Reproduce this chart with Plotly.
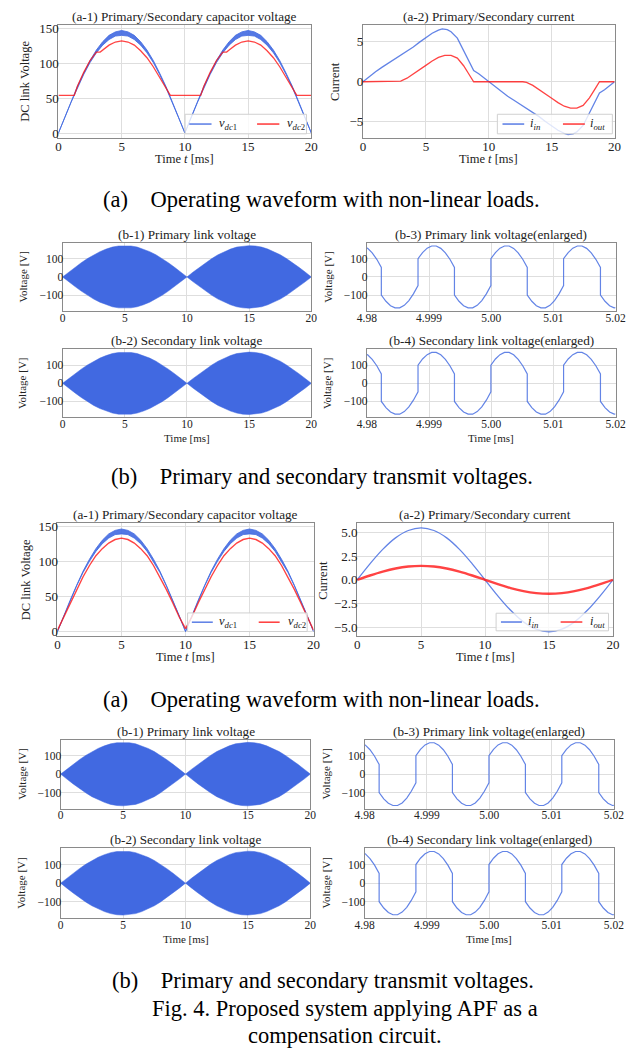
import plotly.graph_objects as go

W, H = 643, 1055
SERIF = "Liberation Serif"
TXT = "#222222"
GRID = "#dedede"
FRAME = "#8a8a8a"
BLUE = "#4169E1"
BLUE_LINE = "rgba(65,105,225,0.82)"
BLUE_BAND = "rgba(65,105,225,0.9)"
RED_LINE = "rgba(255,20,20,0.8)"

# ---------------- data ----------------
t_half = [i * 0.5 for i in range(41)]  # 0 .. 20 ms sampling grid

# (a-1) top: DC link voltages, non-linear loads
vdc1_top_upper = [0, 23, 45, 67, 86, 104, 119, 131, 140, 145, 147, 145, 140, 131, 119, 104, 86, 67, 45, 23, 0,
                  23, 45, 67, 86, 104, 119, 131, 140, 145, 147, 145, 140, 131, 119, 104, 86, 67, 45, 23, 0]
vdc1_top_lower = [0, 22, 44, 65, 84, 101, 115, 126, 134, 139, 140, 139, 134, 126, 115, 101, 84, 65, 44, 22, 0,
                  22, 44, 65, 84, 101, 115, 126, 134, 139, 140, 139, 134, 126, 115, 101, 84, 65, 44, 22, 0]
t_vdc2_top = [0, 1.25, 1.5, 2.0, 2.5, 3.0, 3.3, 3.5, 4.0, 4.5, 5.0, 5.5, 6.0, 6.5, 7.0, 7.5, 8.0, 8.5, 8.85,
              11.25, 11.5, 12.0, 12.5, 13.0, 13.3, 13.5, 14.0, 14.5, 15.0, 15.5, 16.0, 16.5, 17.0, 17.5, 18.0,
              18.5, 18.85, 20]
vdc2_top = [54, 54, 67, 87, 104, 116, 116, 119, 126, 130.5, 132, 130.5, 126, 118, 108, 95, 80, 64, 54,
            54, 67, 87, 104, 116, 116, 119, 126, 130.5, 132, 130.5, 126, 118, 108, 95, 80, 64, 54, 54]

# (a-2) top: currents, non-linear loads
t_iin_top = [0, 0.5, 1, 1.5, 2, 2.5, 3, 3.5, 4, 4.5, 5, 5.5, 6, 6.3, 6.7, 7, 7.5, 8, 8.4, 8.8, 9.2, 9.6, 10,
             10.5, 11, 11.5, 12, 12.5, 13, 13.5, 14, 14.5, 15, 15.5, 16, 16.3, 16.7, 17, 17.5, 18, 18.4, 18.8,
             19.2, 19.6, 20]
iin_top = [0, 0.65, 1.25, 1.8, 2.3, 2.8, 3.25, 3.75, 4.35, 4.95, 5.5, 6.05, 6.45, 6.6, 6.5, 6.25, 5.45, 3.95,
           2.6, 1.4, 1.0, 0.5, 0,
           -0.65, -1.25, -1.8, -2.3, -2.8, -3.25, -3.75, -4.35, -4.95, -5.5, -6.05, -6.45, -6.6, -6.5, -6.25,
           -5.45, -3.95, -2.6, -1.4, -1.0, -0.5, 0]
t_iout_top = [0, 2.7, 3.0, 3.5, 4.0, 4.5, 5.0, 5.5, 6.0, 6.5, 7.0, 7.5, 8.0, 8.4, 8.8,
              12.7, 13.0, 13.5, 14.0, 14.5, 15.0, 15.5, 16.0, 16.5, 17.0, 17.5, 18.0, 18.4, 18.8, 20]
iout_top = [0, 0, 0.08, 0.45, 0.95, 1.5, 2.05, 2.6, 3.05, 3.3, 3.3, 2.95, 2.0, 1.0, 0,
            0, -0.08, -0.45, -0.95, -1.5, -2.05, -2.6, -3.05, -3.3, -3.3, -2.95, -2.0, -1.0, 0, 0]

# (a-1) bottom: DC link voltages with APF
vdc1_bot_upper = [0, 23, 45, 66, 86, 103, 118, 130, 139, 144, 146, 144, 139, 130, 118, 103, 86, 66, 45, 23, 0,
                  23, 45, 66, 86, 103, 118, 130, 139, 144, 146, 144, 139, 130, 118, 103, 86, 66, 45, 23, 0]
vdc1_bot_lower = [0, 22, 44, 65, 84, 100, 114, 125, 133, 138, 139, 138, 133, 125, 114, 100, 84, 65, 44, 22, 0,
                  22, 44, 65, 84, 100, 114, 125, 133, 138, 139, 138, 133, 125, 114, 100, 84, 65, 44, 22, 0]
vdc2_bot = [2, 21, 41, 60, 78, 94, 108, 118, 126, 131, 133, 131, 126, 118, 108, 94, 78, 60, 41, 21, 4,
            21, 41, 60, 78, 94, 108, 118, 126, 131, 133, 131, 126, 118, 108, 94, 78, 60, 41, 21, 2]

# (a-2) bottom: currents with APF
t_ms = list(range(21))
iin_bot = [0, 1.70, 3.23, 4.45, 5.23, 5.5, 5.23, 4.45, 3.23, 1.70, 0,
           -1.70, -3.23, -4.45, -5.23, -5.5, -5.23, -4.45, -3.23, -1.70, 0]
iout_bot = [0, 0.46, 0.87, 1.20, 1.41, 1.48, 1.41, 1.20, 0.87, 0.46, 0,
            -0.46, -0.87, -1.20, -1.41, -1.48, -1.41, -1.20, -0.87, -0.46, 0]

# (b-1)/(b-2) link voltage envelope (85 kHz carrier, drawn as filled envelope)
link_env_upper = [0, 27, 53, 78, 101, 122, 139, 153, 164, 170, 172, 170, 164, 153, 139, 122, 101, 78, 53, 27, 0,
                  27, 53, 78, 101, 122, 139, 153, 164, 170, 172, 170, 164, 153, 139, 122, 101, 78, 53, 27, 0]
link_env_lower = [-v for v in link_env_upper]

# (b-3)/(b-4) enlarged link voltage
t_enl = [4.98000, 4.98013, 4.98086, 4.98160, 4.98233,
         4.98233, 4.98307, 4.98381, 4.98454, 4.98528, 4.98602, 4.98676, 4.98749, 4.98823,
         4.98823, 4.98896, 4.98970, 4.99043, 4.99116, 4.99189, 4.99263, 4.99336, 4.99409,
         4.99409, 4.99482, 4.99556, 4.99629, 4.99702, 4.99775, 4.99849, 4.99922, 4.99995,
         4.99995, 5.00068, 5.00141, 5.00214, 5.00288, 5.00361, 5.00434, 5.00507, 5.00580,
         5.00580, 5.00653, 5.00726, 5.00799, 5.00872, 5.00945, 5.01018, 5.01091, 5.01164,
         5.01164, 5.01238, 5.01312, 5.01386, 5.01460, 5.01535, 5.01609, 5.01683, 5.01757,
         5.01757, 5.01830, 5.01904, 5.01977, 5.02000]
v_enl = [159, 157, 132, 97, 52,
         -100, -134, -158, -170, -170, -156, -130, -93, -47,
         100, 134, 158, 170, 170, 157, 132, 97, 52,
         -100, -134, -158, -170, -170, -156, -130, -93, -47,
         100, 134, 158, 170, 170, 157, 132, 97, 52,
         -100, -134, -158, -170, -170, -156, -130, -93, -47,
         100, 134, 158, 170, 170, 157, 132, 97, 52,
         -100, -134, -158, -170, -169]

x_ticks_ms = [0, 5, 10, 15, 20]
enl_tickvals = [4.98, 4.99, 5.00, 5.01, 5.02]
enl_ticktext = ["4.98", "4.999", "5.00", "5.01", "5.02"]

legend_vdc = ["<i>v</i><sub><i>dc</i>1</sub>", "<i>v</i><sub><i>dc</i>2</sub>"]
legend_i = ["<i>i<sub>in</sub></i>", "<i>i<sub>out</sub></i>"]

# ---------------- layout geometry (pixels) ----------------
panels = [
    ("a1t", 50, 311, 20.7, 135),
    ("a2t", 364.3, 624, 20.7, 135),
    ("b1t", 54.3, 311, 240.5, 309),
    ("b3t", 368.3, 625, 240.5, 309),
    ("b2t", 54.3, 311, 347.7, 416),
    ("b4t", 368.3, 625, 347.7, 416),
    ("a1b", 49, 313.3, 522.7, 636.7),
    ("a2b", 358.3, 622.3, 522.7, 636.7),
    ("b1b", 52.3, 310, 740.5, 810),
    ("b3b", 366, 623.3, 740.5, 810),
    ("b2b", 52.3, 310, 850, 920),
    ("b4b", 366, 623.3, 850, 920),
]
idx = {p[0]: i + 1 for i, p in enumerate(panels)}
geo = {p[0]: p[1:] for p in panels}


def px(x):
    return x / W


def py(y):
    return 1 - y / H


def axn(name, kind):
    i = idx[name]
    return kind if i == 1 else f"{kind}{i}"


fig = go.Figure()


def add(name, trace):
    trace.update(xaxis=axn(name, "x"), yaxis=axn(name, "y"), showlegend=False, hoverinfo="skip")
    fig.add_trace(trace)


# ---- a-1 top ----
add("a1t", go.Scatter(x=t_half + t_half[::-1], y=vdc1_top_upper + vdc1_top_lower[::-1], fill="toself",
                      fillcolor=BLUE_BAND, mode="lines", line=dict(color=BLUE_LINE, width=1)))
add("a1t", go.Scatter(x=t_vdc2_top, y=vdc2_top, mode="lines", line=dict(color=RED_LINE, width=1.3)))
# ---- a-2 top ----
add("a2t", go.Scatter(x=t_iin_top, y=iin_top, mode="lines", line=dict(color=BLUE_LINE, width=1.3)))
add("a2t", go.Scatter(x=t_iout_top, y=iout_top, mode="lines", line=dict(color=RED_LINE, width=1.3)))
# ---- a-1 bottom ----
add("a1b", go.Scatter(x=t_half + t_half[::-1], y=vdc1_bot_upper + vdc1_bot_lower[::-1], fill="toself",
                      fillcolor=BLUE_BAND, mode="lines", line=dict(color=BLUE_LINE, width=1)))
add("a1b", go.Scatter(x=t_half, y=vdc2_bot, mode="lines", line=dict(color=RED_LINE, width=1.4)))
# ---- a-2 bottom ----
add("a2b", go.Scatter(x=t_ms, y=iin_bot, mode="lines", line=dict(color=BLUE_LINE, width=1.3, shape="spline")))
add("a2b", go.Scatter(x=t_ms, y=iout_bot, mode="lines", line=dict(color=RED_LINE, width=2.4, shape="spline")))
# ---- b panels ----
for nm in ["b1t", "b2t", "b1b", "b2b"]:
    add(nm, go.Scatter(x=t_half + t_half[::-1], y=link_env_upper + link_env_lower[::-1], fill="toself",
                       fillcolor=BLUE, mode="lines", line=dict(color=BLUE, width=0.5)))
for nm in ["b3t", "b4t", "b3b", "b4b"]:
    add(nm, go.Scatter(x=t_enl, y=v_enl, mode="lines", line=dict(color=BLUE_LINE, width=1.2)))

# ---------------- axes ----------------
yranges = {
    "a1t": [-7.3, 155.5], "a2t": [-7.03, 7.14], "a1b": [-7.1, 154.2], "a2b": [-6.0, 6.0],
}
TICKFAMILY = "Liberation Serif, Times New Roman, serif"
layout_axes = {}
for name, (l, r, t, b) in geo.items():
    i = idx[name]
    is_a = name.startswith("a")
    fs = 13 if is_a else 11.5

    def common(standoff):
        return dict(showgrid=True, gridcolor=GRID, gridwidth=1, showline=True, linecolor=FRAME, linewidth=1,
                    mirror=True, ticks="", ticklen=0, zeroline=False, tickmode="array", fixedrange=True,
                    ticklabelstandoff=standoff,
                    tickfont=dict(family=TICKFAMILY, size=fs, color=TXT))
    xa = dict(domain=[px(l), px(r)], anchor=axn(name, "y"), **common(-4))
    ya = dict(domain=[py(b), py(t)], anchor=axn(name, "x"), **common(-4))
    if name in ("b3t", "b4t", "b3b", "b4b"):
        xa.update(range=[4.98, 5.02], tickvals=enl_tickvals, ticktext=enl_ticktext)
    else:
        xa.update(range=[0, 20], tickvals=x_ticks_ms, ticktext=[str(v) for v in x_ticks_ms])
    if name.startswith("b"):
        ya.update(range=[-187, 187], tickvals=[-100, 0, 100], ticktext=["\u2212100", "0", "100"])
    elif name in ("a1t", "a1b"):
        ya.update(range=yranges[name], tickvals=[0, 50, 100, 150], ticktext=["0", "50", "100", "150"])
    elif name == "a2t":
        ya.update(range=yranges[name], tickvals=[-5, 0, 5], ticktext=["\u22125", "0", "5"])
    else:
        ya.update(range=yranges[name], tickvals=[-5, -2.5, 0, 2.5, 5],
                  ticktext=["\u22125.0", "\u22122.5", "0.0", "2.5", "5.0"])
    layout_axes["xaxis" if i == 1 else f"xaxis{i}"] = xa
    layout_axes["yaxis" if i == 1 else f"yaxis{i}"] = ya

# ---------------- annotations & shapes ----------------
ann = []
shapes = []


def text(x, y, s, size, angle=0, color=TXT, xanchor="center"):
    ann.append(dict(x=px(x), y=py(y), xref="paper", yref="paper", text=s, showarrow=False,
                    xanchor=xanchor, yanchor="middle", textangle=angle,
                    font=dict(family=SERIF, size=size, color=color)))


# manual legends: box (l, r, t, b), line segments, text starts
legends = [
    ((180.7, 306, 111, 130.7), [(185, 208), (255, 278)], [214, 284], legend_vdc),
    ((503, 621.7, 111, 130.7), [(508.3, 530.7), (570.7, 593.3)], [535, 597], legend_i),
    ((183.3, 306.7, 613, 631.7), [(187.7, 209.3), (256.7, 278.3)], [214, 285], legend_vdc),
    ((501.7, 617.7, 613.3, 631), [(506.7, 528.3), (568.3, 590.7)], [533, 597], legend_i),
]
for (bl, br, bt, bb), segs, txs, labels in legends:
    shapes.append(dict(type="rect", xref="paper", yref="paper", x0=px(bl), x1=px(br), y0=py(bb), y1=py(bt),
                       fillcolor="rgba(255,255,255,0.8)", line=dict(color="#d0d0d0", width=1), layer="above"))
    ym = (bt + bb) / 2
    for (x0, x1), col in zip(segs, [BLUE_LINE, RED_LINE]):
        shapes.append(dict(type="line", xref="paper", yref="paper", x0=px(x0), x1=px(x1), y0=py(ym), y1=py(ym),
                           line=dict(color=col, width=1.6), layer="above"))
    for xt, lab in zip(txs, labels):
        text(xt, ym, lab, 12.5, xanchor="left")

titles = {
    "a1t": "(a-1) Primary/Secondary capacitor voltage",
    "a2t": "(a-2) Primary/Secondary current",
    "b1t": "(b-1) Primary link voltage",
    "b3t": "(b-3) Primary link voltage(enlarged)",
    "b2t": "(b-2) Secondary link voltage",
    "b4t": "(b-4) Secondary link voltage(enlarged)",
    "a1b": "(a-1) Primary/Secondary capacitor voltage",
    "a2b": "(a-2) Primary/Secondary current",
    "b1b": "(b-1) Primary link voltage",
    "b3b": "(b-3) Primary link voltage(enlarged)",
    "b2b": "(b-2) Secondary link voltage",
    "b4b": "(b-4) Secondary link voltage(enlarged)",
}
for name, s in titles.items():
    l, r, t, b = geo[name]
    text((l + r) / 2, t - 8.5, s, 13.2)

# x axis titles
for name in ("a1t", "a2t", "a1b", "a2b"):
    l, r, t, b = geo[name]
    text((l + r) / 2, b + 21, "Time <i>t</i> [ms]", 12.5)
for name in ("b2t", "b4t", "b2b", "b4b"):
    l, r, t, b = geo[name]
    text((l + r) / 2, b + 21, "Time [ms]", 11)

# y axis titles (pixel centre positions)
ytitle_x = {"a1t": 19, "a2t": 339, "a1b": 19, "a2b": 326,
            "b1t": 16, "b2t": 16, "b3t": 331, "b4t": 331,
            "b1b": 15, "b2b": 15, "b3b": 329.5, "b4b": 329.5}
for name, xx in ytitle_x.items():
    l, r, t, b = geo[name]
    if name in ("a1t", "a1b"):
        s, fs = "DC link Voltage", 12.5
    elif name in ("a2t", "a2b"):
        s, fs = "Current", 12.5
    else:
        s, fs = "Voltage [V]", 11
    text(xx - 3, (t + b) / 2, s, fs, angle=-90)

# captions
gap = "\u00a0" * 4
text(321.5, 197, "(a)" + gap + "Operating waveform with non-linear loads.", 22.5, color="#000000")
text(321.5, 476, "(b)" + gap + "Primary and secondary transmit voltages.", 22.5, color="#000000")
text(321.5, 700, "(a)" + gap + "Operating waveform with non-linear loads.", 22.5, color="#000000")
text(323, 983, "(b)" + gap + "Primary and secondary transmit voltages.", 22.5, color="#000000")
text(346, 1011, "Fig. 4. Proposed system applying APF as a", 22.5, color="#000000")
text(346, 1038, "compensation circuit.", 22.5, color="#000000")

fig.update_layout(
    width=W, height=H, margin=dict(l=0, r=0, t=0, b=0), autosize=False,
    paper_bgcolor="white", plot_bgcolor="white", showlegend=False,
    font=dict(family=SERIF, color=TXT),
    annotations=ann, shapes=shapes, hovermode=False,
    **layout_axes,
)

fig.write_html(
    "out.html",
    config={"displayModeBar": False},
    post_script="document.body.style.margin='0';document.body.style.overflow='hidden';",
)
